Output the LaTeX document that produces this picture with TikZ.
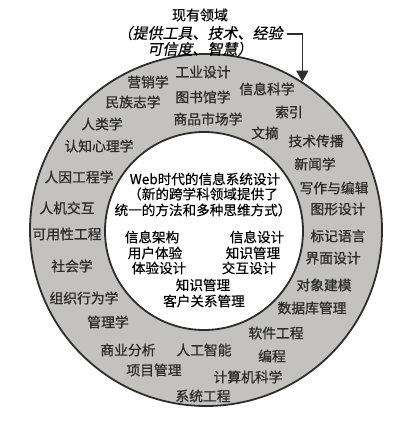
\documentclass[tikz,border=0pt]{standalone}
\usepackage{fontspec}
\usetikzlibrary{arrows.meta}
\newfontfamily\hei[FakeBold=0.9]{Noto Sans CJK SC}
\newfontfamily\heilight[FakeBold=0.3]{Noto Sans CJK SC}
\newfontfamily\heiit[FakeSlant=0.2,FakeBold=0.3]{Noto Sans CJK SC}
\definecolor{ringgray}{RGB}{196,194,191}
\definecolor{inkgray}{RGB}{45,45,45}
\tikzset{
  field/.style={font=\hei\fontsize{13.8}{15}\selectfont, text=inkgray, inner sep=0pt},
  topic/.style={font=\heilight\fontsize{13.6}{15}\selectfont, text=black, inner sep=0pt},
  head/.style={font=\heilight\fontsize{14}{15}\selectfont, text=black, inner sep=0pt},
  headit/.style={font=\heiit\fontsize{15}{16}\selectfont, text=black, inner sep=0pt},
}
\begin{document}
\begin{tikzpicture}[x=1pt,y=-1pt]
            \useasboundingbox (0,0) rectangle (400,421);

            % the two rings
            \node[circle, draw=inkgray, line width=1.8pt, fill=ringgray, minimum size=352pt, inner sep=0pt] (ring) at (206,230) {};
            \node[circle, draw=inkgray, line width=1.8pt, fill=white, minimum size=198pt, inner sep=0pt] (core) at (204,231) {};

            % heading and arrow
            \node[head] (h1) at (200,15) {现有领域};
            \node[headit] (h2) at (200,33) {（提供工具、技术、经验};
            \node[headit] (h3) at (200,49) {可信度、智慧）};
            \coordinate (tip) at (ring.57);
            \draw[-{Triangle[width=12pt,length=11pt]}, line width=1.5pt, draw=inkgray] ([xshift=4pt,yshift=-1pt]h2.east) -| (tip);

            % outer ring, top
            \node[field] (marketing) at (148,82) {营销学};
            \node[field] (industrial) at (203,72) {工业设计};
            \node[field] (infosci) at (267,89) {信息科学};
            \node[field] (ethno) at (133,102) {民族志学};
            \node[field] (library) at (203,97) {图书馆学};
            \node[field] (index) at (289,112) {索引};
            \node[field] (anthro) at (102,124) {人类学};
            \node[field] (merch) at (208,119) {商品市场学};
            \node[field] (abstract) at (265,133) {文摘};

            % outer ring, left
            \node[field] (cogpsy) at (99,146) {认知心理学};
            \node[field] (ergo) at (79,177) {人因工程学};
            \node[field] (hci) at (67,208) {人机交互};
            \node[field] (usability) at (67,234) {可用性工程};
            \node[field] (socio) at (72,266) {社会学};
            \node[field] (orgbeh) at (84,298) {组织行为学};
            \node[field] (mgmt) at (108,322) {管理学};

            % outer ring, right
            \node[field] (techcomm) at (316,141) {技术传播};
            \node[field] (journal) at (315,164) {新闻学};
            \node[field] (writing) at (334,188) {写作与编辑};
            \node[field] (graphic) at (338,209) {图形设计};
            \node[field] (markup) at (338,236) {标记语言};
            \node[field] (interface) at (333,258) {界面设计};
            \node[field] (objmodel) at (324,285) {对象建模};
            \node[field] (dbmgmt) at (312,308) {数据库管理};
            \node[field] (softeng) at (276,333) {软件工程};

            % outer ring, bottom
            \node[field] (bizana) at (128,350) {商业分析};
            \node[field] (ai) at (204,350) {人工智能};
            \node[field] (coding) at (272,356) {编程};
            \node[field] (projmgmt) at (154,370) {项目管理};
            \node[field] (compsci) at (248,377) {计算机科学};
            \node[field] (syseng) at (203,396) {系统工程};

            % the core
            \node[topic] (web1) at (205,179) {Web时代的信息系统设计};
            \node[topic] (web2) at (203,194) {（新的跨学科领域提供了};
            \node[topic] (web3) at (203,210) {统一的方法和多种思维方式）};
            \node[topic] (ia) at (152,237) {信息架构};
            \node[topic] (ux) at (155,253) {用户体验};
            \node[topic] (xd) at (159,268) {体验设计};
            \node[topic] (infodes) at (257,237) {信息设计};
            \node[topic] (km) at (253,253) {知识管理};
            \node[topic] (ixd) at (249,268) {交互设计};
            \node[topic] (km2) at (203,285) {知识管理};
            \node[topic] (crm) at (204,301) {客户关系管理};

        \end{tikzpicture}
\end{document}
